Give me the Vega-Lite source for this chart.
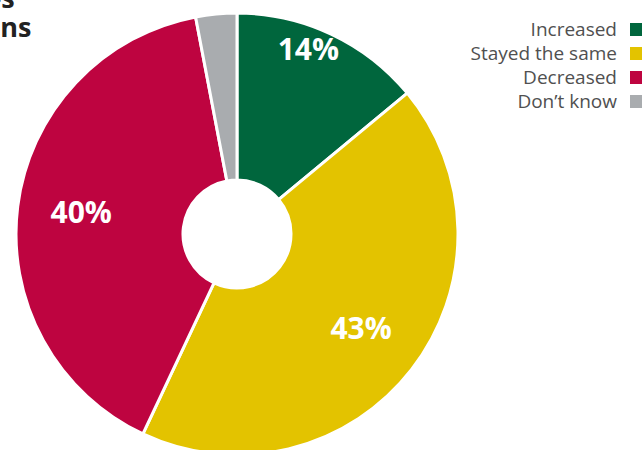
{
  "$schema": "https://vega.github.io/schema/vega-lite/v6.json",
  "width": 474,
  "height": 468,
  "autosize": "none",
  "padding": {"left": 0, "top": 0, "right": 168, "bottom": 0},
  "background": "white",
  "title": {
    "text": ["Farm prices", "expectations"],
    "anchor": "start",
    "frame": "group",
    "orient": "top",
    "baseline": "top",
    "offset": -43,
    "dx": -143,
    "font": "Open Sans",
    "fontSize": 27,
    "fontWeight": "bold",
    "color": "#222222",
    "lineHeight": 29
  },
  "data": {
    "values": [
      {"category": "Increased", "value": 14, "label": "14%", "rank": 1},
      {"category": "Stayed the same", "value": 43, "label": "43%", "rank": 2},
      {"category": "Decreased", "value": 40, "label": "40%", "rank": 3},
      {"category": "Don’t know", "value": 3, "label": "", "rank": 4}
    ]
  },
  "encoding": {
    "theta": {"field": "value", "type": "quantitative", "stack": true},
    "order": {"field": "rank", "type": "ordinal"}
  },
  "layer": [
    {
      "mark": {"type": "arc", "outerRadius": 221, "innerRadius": 54, "stroke": "white", "strokeWidth": 3},
      "encoding": {
        "color": {
          "field": "category",
          "type": "nominal",
          "scale": {
            "domain": ["Increased", "Stayed the same", "Decreased", "Don’t know"],
            "range": ["#00663d", "#e3c300", "#be0440", "#a9acaf"]
          },
          "legend": {
            "title": null,
            "orient": "none",
            "legendX": 627,
            "legendY": 20,
            "symbolType": "square",
            "symbolSize": 169,
            "symbolStrokeWidth": 0,
            "symbolOpacity": 1,
            "labelAlign": "right",
            "labelOffset": -29,
            "labelFont": "Open Sans",
            "labelFontSize": 19,
            "labelColor": "#505050",
            "labelLimit": 300,
            "rowPadding": 4,
            "padding": 0
          }
        }
      }
    },
    {
      "mark": {"type": "text", "radius": 198, "dx": -13, "dy": -4, "font": "Open Sans", "fontSize": 30, "fontWeight": "bold", "color": "white"},
      "encoding": {"text": {"condition": {"test": "datum.rank == 1", "field": "label"}, "value": ""}}
    },
    {
      "mark": {"type": "text", "radius": 157, "font": "Open Sans", "fontSize": 30, "fontWeight": "bold", "color": "white"},
      "encoding": {"text": {"condition": {"test": "datum.rank == 2 || datum.rank == 3", "field": "label"}, "value": ""}}
    }
  ]
}
